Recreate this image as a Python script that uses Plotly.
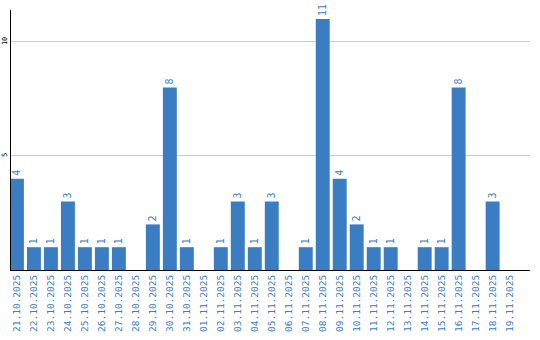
import plotly.graph_objects as go

dates = ["21.10.2025","22.10.2025","23.10.2025","24.10.2025","25.10.2025","26.10.2025",
         "27.10.2025","28.10.2025","29.10.2025","30.10.2025","31.10.2025","01.11.2025",
         "02.11.2025","03.11.2025","04.11.2025","05.11.2025","06.11.2025","07.11.2025",
         "08.11.2025","09.11.2025","10.11.2025","11.11.2025","12.11.2025","13.11.2025",
         "14.11.2025","15.11.2025","16.11.2025","17.11.2025","18.11.2025","19.11.2025"]
counts = [4,1,1,3,1,1,1,0,2,8,1,0,1,3,1,3,0,1,11,4,2,1,1,0,1,1,8,0,3,0]
labels = [str(v) if v > 0 else "" for v in counts]

blue = "#3a7dc2"
fig = go.Figure(go.Bar(
    x=dates, y=counts, text=labels, textposition="outside", textangle=-90,
    textfont=dict(family="DejaVu Sans Mono", size=10, color=blue),
    marker=dict(color=blue, line=dict(width=0)), cliponaxis=False,
))
fig.update_layout(
    width=540, height=340, margin=dict(l=11, r=10, t=10, b=70),
    plot_bgcolor="white", paper_bgcolor="white", showlegend=False, bargap=0.18,
)
fig.update_xaxes(type="category", range=[-0.35, 30.2], showgrid=False, automargin=False,
                 showline=True, linecolor="black", linewidth=1, ticks="",
                 tickangle=-90, tickfont=dict(family="DejaVu Sans Mono", size=9.5, color=blue))
fig.update_yaxes(range=[0, 11.4], tickvals=[5, 10], showgrid=True, gridcolor="#cccccc",
                 gridwidth=1, showline=True, linecolor="black", linewidth=1, zeroline=False,
                 ticks="", tickangle=-90, ticklabelstandoff=0, automargin=False,
                 tickfont=dict(family="DejaVu Sans Mono", size=7, color="black"))
fig.write_html("out.html")
